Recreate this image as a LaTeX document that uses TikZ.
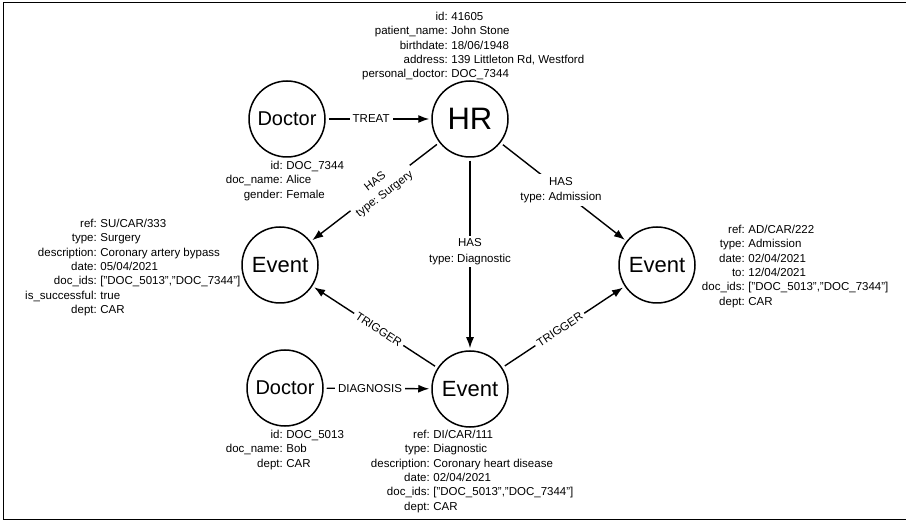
\documentclass[tikz,border=0pt]{standalone}
\usepackage{fontspec}
\setmainfont{Liberation Sans}
\usetikzlibrary{arrows.meta}
\frenchspacing

% property font and list helpers
\newcommand\pf{\fontsize{11.5}{14.4}\selectfont}
\newcommand\lf{\fontsize{11.5}{15.5}\selectfont}
\newcommand\keylist[1]{\begin{tabular}{@{}r@{}}#1\end{tabular}}
\newcommand\vallist[1]{\begin{tabular}{@{}l@{}}#1\end{tabular}}
\newcommand\docids{\relax["DOC\_5013","DOC\_7344"]}

\begin{document}
\begin{tikzpicture}[x=1pt,y=-1pt,
  ent/.style={circle, draw, line width=1.5pt, minimum size=76pt, inner sep=0pt},
  docfont/.style={font=\fontsize{20}{24}\selectfont},
  evfont/.style={font=\fontsize{22}{26}\selectfont},
  hrfont/.style={font=\fontsize{31}{36}\selectfont},
  pkey/.style={anchor=north east, inner sep=0pt, font=\pf},
  pval/.style={anchor=north west, inner sep=0pt, font=\pf},
  rel/.style={line width=1.4pt, -{Latex[length=11pt,width=8pt]}, shorten >=2pt, shorten <=3pt},
  elabel/.style={fill=white, inner sep=3pt, font=\lf, align=center}]

\useasboundingbox (0,0) rectangle (906,521);

% frame
\draw[line width=1.3pt] (906,2.5) -- (3.5,2.5) -- (3.5,519.5) -- (906,519.5);

% entities
\node[ent, docfont] (doc1) at (287,119) {Doctor};
\node[ent, hrfont]  (hr)   at (470,119) {HR};
\node[ent, evfont]  (evs)  at (280,265) {Event};
\node[ent, evfont]  (eva)  at (657,265) {Event};
\node[ent, docfont] (doc2) at (285,388) {Doctor};
\node[ent, evfont]  (evd)  at (470,389) {Event};

% relations
\draw[rel] (doc1) -- node[elabel, pos=0.43] {TREAT} (hr);
\draw[rel] (hr) -- node[elabel, sloped, pos=0.46] {HAS\\type: Surgery} (evs);
\draw[rel] (hr) -- node[elabel, pos=0.487] {HAS\\type: Diagnostic} (evd);
\draw[rel] (hr) -- node[elabel, pos=0.48] {HAS\\type: Admission} (eva);
\draw[rel] (evd) -- node[elabel, sloped, pos=0.47] {TRIGGER} (evs);
\draw[rel] (evd) -- node[elabel, sloped, pos=0.47] {TRIGGER} (eva);
\draw[rel] (doc2) -- node[elabel, pos=0.43] {DIAGNOSIS} (evd);

% properties: HR
\node[pkey] (hr-k) at (448,10) {\keylist{id:\\patient\_name:\\birthdate:\\address:\\personal\_doctor:}};
\node[pval] (hr-v) at (451.2,10) {\vallist{41605\\John Stone\\18/06/1948\\139 Littleton Rd, Westford\\DOC\_7344}};

% properties: Doctor (Alice)
\node[pkey] (doc1-k) at (283,159) {\keylist{id:\\doc\_name:\\gender:}};
\node[pval] (doc1-v) at (286.2,159) {\vallist{DOC\_7344\\Alice\\Female}};

% properties: surgery event
\node[pkey] (evs-k) at (97,217) {\keylist{ref:\\type:\\description:\\date:\\doc\_ids:\\is\_successful:\\dept:}};
\node[pval] (evs-v) at (100.2,217) {\vallist{SU/CAR/333\\Surgery\\Coronary artery bypass\\05/04/2021\\\docids\\true\\CAR}};

% properties: admission event
\node[pkey] (eva-k) at (745,223) {\keylist{ref:\\type:\\date:\\to:\\doc\_ids:\\dept:}};
\node[pval] (eva-v) at (748.2,223) {\vallist{AD/CAR/222\\Admission\\02/04/2021\\12/04/2021\\\docids\\CAR}};

% properties: Doctor (Bob)
\node[pkey] (doc2-k) at (283,428) {\keylist{id:\\doc\_name:\\dept:}};
\node[pval] (doc2-v) at (286.2,428) {\vallist{DOC\_5013\\Bob\\CAR}};

% properties: diagnostic event
\node[pkey] (evd-k) at (430,428) {\keylist{ref:\\type:\\description:\\date:\\doc\_ids:\\dept:}};
\node[pval] (evd-v) at (433.2,428) {\vallist{DI/CAR/111\\Diagnostic\\Coronary heart disease\\02/04/2021\\\docids\\CAR}};

\end{tikzpicture}
\end{document}
